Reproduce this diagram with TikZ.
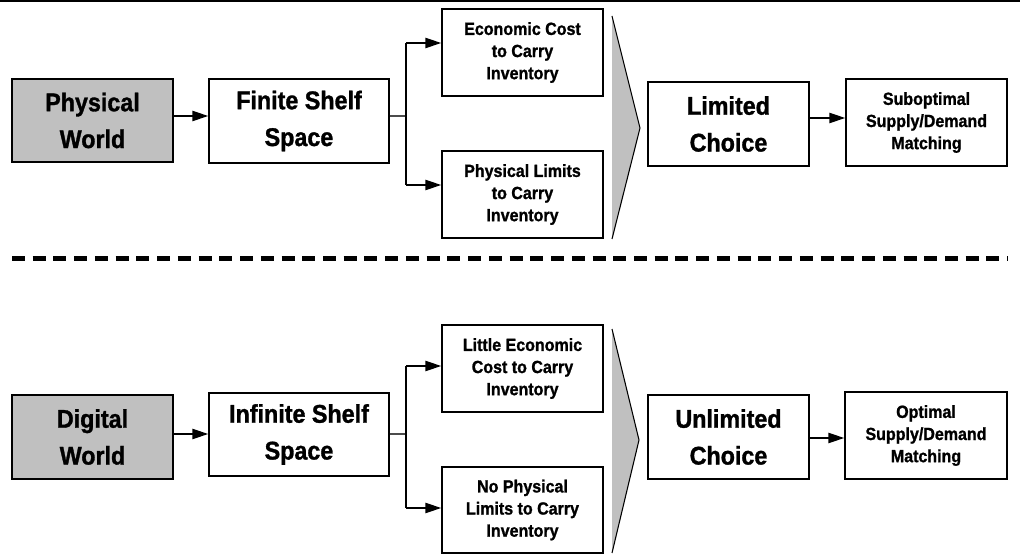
\documentclass[tikz,border=0pt]{standalone}
\usepackage{fontspec}
\setmainfont{Liberation Sans}[FakeStretch=0.91, BoldFeatures={FakeBold=1.2}]
\usetikzlibrary{arrows.meta}
\definecolor{boxgray}{HTML}{C0C0C0}
\begin{document}
\begin{tikzpicture}[x=0.75pt,y=-0.75pt,
  box/.style={draw=black, line width=0.9pt, fill=white, inner sep=0pt, align=center},
  big/.style={box, font=\fontsize{19.2}{27.6}\selectfont\bfseries},
  small/.style={box, font=\fontsize{13.2}{16.6}\selectfont\bfseries},
  world/.style={big, fill=boxgray},
  arr/.style={line width=1.6pt, -{Triangle[length=12pt,width=7.5pt]}},
  stub/.style={line width=0.8pt, black!70},
  trunk/.style={line width=1.3pt},
  tri/.style={line width=0.8pt},
]
\useasboundingbox (0,0) rectangle (1020,555);
% top rule
\draw[line width=1.9pt] (0,1) -- (1020,1);
% ---------- top row ----------
\node[world, minimum width=120.75pt, minimum height=62.25pt] (PW) at (92.5,120.5) {Physical\\World};
\node[big, minimum width=135pt, minimum height=63pt] (FS) at (299,121) {Finite Shelf\\Space};
\node[small, minimum width=120.75pt, minimum height=65.25pt] (EC) at (522.5,52.5) {Economic Cost\\to Carry\\Inventory};
\node[small, minimum width=120.75pt, minimum height=65.25pt] (PL) at (522.5,194.5) {Physical Limits\\to Carry\\Inventory};
\node[big, minimum width=120.75pt, minimum height=63pt] (LC) at (728.5,124) {Limited\\Choice};
\node[small, minimum width=120.75pt, minimum height=65.25pt] (SO) at (926.5,122.5) {Suboptimal\\Supply/Demand\\Matching};
\fill[boxgray] (612,16) -- (640,128) -- (612,239) -- cycle;
\draw[tri] (612,16) -- (640,128) -- (612,239);
\coordinate (r1) at (0,116);
\coordinate (b1) at (406,116);
\coordinate (b1t) at (406,43);
\coordinate (b1b) at (406,185);
\coordinate (s1) at (0,118);
\draw[arr] (PW.east |- r1) -- (FS.west |- r1);
\draw[stub] (FS.east |- b1) -- (b1);
\draw[trunk] (b1t) -- (b1b);
\draw[arr] (b1t) -- (EC.west |- b1t);
\draw[arr] (b1b) -- (PL.west |- b1b);
\draw[arr] (LC.east |- s1) -- (SO.west |- s1);
% dashed separator
\draw[line width=3.2pt, dash pattern=on 9.75pt off 5.8pt] (12,258.5) -- (1008,258.5);
% ---------- bottom row ----------
\node[world, minimum width=120.75pt, minimum height=63pt] (DW) at (92.5,437) {Digital\\World};
\node[big, minimum width=135pt, minimum height=62.25pt] (IS) at (299,434.5) {Infinite Shelf\\Space};
\node[small, minimum width=120.75pt, minimum height=65.25pt] (LE) at (522.5,368.5) {Little Economic\\Cost to Carry\\Inventory};
\node[small, minimum width=120.75pt, minimum height=64.5pt] (NP) at (522.5,510) {No Physical\\Limits to Carry\\Inventory};
\node[big, minimum width=120.75pt, minimum height=63pt] (UC) at (728.5,437) {Unlimited\\Choice};
\node[small, minimum width=121.5pt, minimum height=65.25pt] (OP) at (926,435.5) {Optimal\\Supply/Demand\\Matching};
\fill[boxgray] (612,329) -- (639,440) -- (612,553) -- cycle;
\draw[tri] (612,329) -- (639,440) -- (612,553);
\coordinate (r2) at (0,434);
\coordinate (b2) at (406,434);
\coordinate (b2t) at (406,366);
\coordinate (b2b) at (406,508);
\coordinate (s2) at (0,438);
\draw[arr] (DW.east |- r2) -- (IS.west |- r2);
\draw[stub] (IS.east |- b2) -- (b2);
\draw[trunk] (b2t) -- (b2b);
\draw[arr] (b2t) -- (LE.west |- b2t);
\draw[arr] (b2b) -- (NP.west |- b2b);
\draw[arr] (UC.east |- s2) -- (OP.west |- s2);
\end{tikzpicture}
\end{document}
